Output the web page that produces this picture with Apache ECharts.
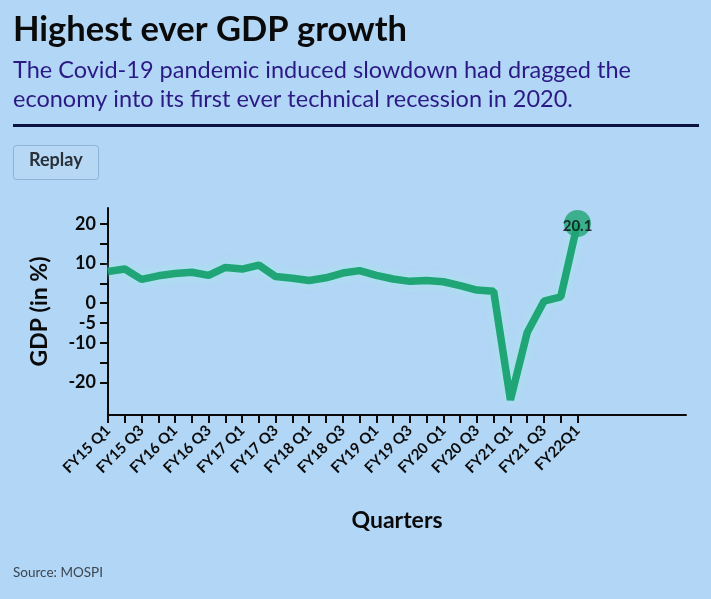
<!DOCTYPE html>
<html>
<head>
<meta charset="utf-8">
<script src="https://cdn.jsdelivr.net/npm/echarts@6/dist/echarts.min.js"></script>
<style>
html,body{margin:0;padding:0;background:#b2d6f5;}
#c{width:711px;height:599px;}
</style>
</head>
<body>
<div id="c"></div>
<script>
const quarters = [
  "FY15 Q1","FY15 Q2","FY15 Q3","FY15 Q4",
  "FY16 Q1","FY16 Q2","FY16 Q3","FY16 Q4",
  "FY17 Q1","FY17 Q2","FY17 Q3","FY17 Q4",
  "FY18 Q1","FY18 Q2","FY18 Q3","FY18 Q4",
  "FY19 Q1","FY19 Q2","FY19 Q3","FY19 Q4",
  "FY20 Q1","FY20 Q2","FY20 Q3","FY20 Q4",
  "FY21 Q1","FY21 Q2","FY21 Q3","FY21 Q4",
  "FY22Q1"
];
const gdp = [
  8.0, 8.6, 6.0, 6.9,
  7.5, 7.8, 7.0, 9.0,
  8.6, 9.6, 6.7, 6.3,
  5.7, 6.4, 7.6, 8.2,
  7.0, 6.1, 5.5, 5.7,
  5.4, 4.4, 3.3, 3.0,
  -24.4, -7.4, 0.5, 1.6,
  20.1
];
const yTicks = [-20, -15, -10, -5, 0, 5, 10, 15, 20];
const yLabels = [-20, -10, -5, 0, 10, 20];
const xLabelIdx = quarters.map((q, i) => i).filter(i => i % 2 === 0);
const xTickIdx = quarters.map((q, i) => i);

const FONT = 'Lato';
const chart = echarts.init(document.getElementById('c'), null, {renderer: 'canvas'});
const last = gdp.length - 1;

chart.setOption({
  backgroundColor: '#b2d6f5',
  animation: false,
  textStyle: {fontFamily: FONT},
  graphic: [
    {type: 'text', left: 13, top: 12, style: {text: 'Highest ever GDP growth', font: 'bold 34.5px ' + FONT, fill: '#0a0a0a'}},
    {type: 'text', left: 13, top: 56, style: {text: 'The Covid-19 pandemic induced slowdown had dragged the\neconomy into its first ever technical recession in 2020.', font: '23.5px ' + FONT, fill: '#2b1a86', lineHeight: 29}},
    {type: 'rect', shape: {x: 13, y: 124, width: 686, height: 3}, style: {fill: '#0c1240'}},
    {type: 'rect', shape: {x: 13.5, y: 145.5, width: 85, height: 34, r: 3}, style: {fill: '#b6d8f4', stroke: '#8fb3d6', lineWidth: 1}},
    {type: 'text', left: 29, top: 151, style: {text: 'Replay', font: 'bold 18px ' + FONT, fill: '#2a2f38'}},
    {type: 'text', left: 13, top: 566, style: {text: 'Source: MOSPI', font: '13.5px ' + FONT, fill: '#3b4650'}}
  ],
  grid: {left: 108, top: 208, right: 25, bottom: 184, containLabel: false},
  xAxis: {
    type: 'value',
    min: 0,
    max: 34.47,
    name: 'Quarters',
    nameLocation: 'middle',
    nameGap: 94,
    nameTextStyle: {fontFamily: FONT, fontWeight: 'bold', fontSize: 23, color: '#0a0a0a'},
    axisLine: {show: true, onZero: false, lineStyle: {color: '#0a0a0a', width: 2}},
    axisTick: {show: true, customValues: xTickIdx, length: 8, lineStyle: {color: '#0a0a0a', width: 2}},
    splitLine: {show: false},
    axisLabel: {
      customValues: xLabelIdx,
      rotate: 45,
      margin: 13,
      fontFamily: FONT, fontWeight: 'bold', fontSize: 15, color: '#0a0a0a',
      formatter: v => quarters[v]
    }
  },
  yAxis: {
    type: 'value',
    min: -28.2,
    max: 24.0,
    name: 'GDP (in %)',
    nameLocation: 'middle',
    nameGap: 57,
    nameTextStyle: {fontFamily: FONT, fontWeight: 'bold', fontSize: 23, color: '#0a0a0a'},
    axisLine: {show: true, lineStyle: {color: '#0a0a0a', width: 2}},
    axisTick: {show: true, customValues: yTicks, length: 8, lineStyle: {color: '#0a0a0a', width: 2}},
    splitLine: {show: false},
    axisLabel: {
      customValues: yLabels,
      margin: 12,
      fontFamily: FONT, fontWeight: 'bold', fontSize: 18, color: '#0a0a0a'
    }
  },
  series: [
    {
      type: 'line',
      data: quarters.map((q, i) => [i, gdp[i]]),
      showSymbol: false,
      symbol: 'none',
      lineStyle: {color: '#1fa576', width: 7.5, shadowColor: 'rgba(165,232,235,1)', shadowBlur: 10},
      z: 2
    },
    {
      type: 'scatter',
      data: [[last, gdp[last]]],
      symbolSize: 27,
      itemStyle: {color: '#1fa576'},
      label: {show: true, position: 'inside', formatter: p => String(p.value[1]), fontFamily: FONT, fontWeight: 'bold', fontSize: 15, color: '#0a0a0a', offset: [0, 3]},
      z: 3
    }
  ]
});
</script>
</body>
</html>
